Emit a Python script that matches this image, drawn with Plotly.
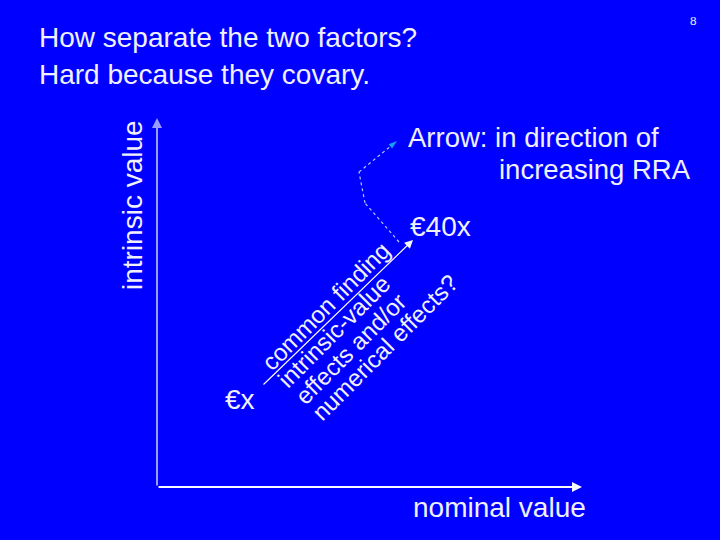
import math
import plotly.graph_objects as go

# ---- diagram data (pixel-space coordinates of the slide, y grows downward) ----
axis_origin = [157, 487]
y_axis_end = [157, 118]
x_axis_end = [582, 487]

finding_start = [262, 386]
finding_end = [413, 240]

dotted_x = [399, 365, 359, 397]
dotted_y = [242, 203, 172, 141]

title_lines = ["How separate the two factors?", "Hard because they covary."]
title_y = [37, 74]
slide_number = "8"

rotated_lines = ["common finding", "intrinsic-value", "effects and/or", "numerical effects?"]
# position of each rotated line: distance across (perpendicular) and along the 45° direction
rotated_across = [446.5, 471, 494.5, 518]
rotated_along = [13.5, 1.5, 1.7, 26.3]

BG = "#0000FF"
FG = "#F0F0FF"
FONT = "Liberation Sans, Arial, sans-serif"

fig = go.Figure()

# dotted path with arrow head at the end
fig.add_trace(go.Scatter(
    x=dotted_x, y=dotted_y, mode="lines+markers",
    line=dict(color="#A8CCFF", width=1.2, dash="dot"),
    marker=dict(symbol="arrow", size=[0, 0, 0, 9], angleref="previous",
                color="#22E0F0", line=dict(width=0)),
    hoverinfo="skip", showlegend=False))

annotations = []

def arrow(start, end, color, width, head=2, size=1):
    annotations.append(dict(
        x=end[0], y=end[1], ax=start[0], ay=start[1],
        xref="x", yref="y", axref="x", ayref="y",
        showarrow=True, arrowhead=head, arrowsize=size, arrowwidth=width,
        arrowcolor=color, text=""))

arrow(axis_origin, y_axis_end, "#9A9AFF", 2)
arrow(axis_origin, x_axis_end, "#F8F8FF", 2)
arrow(finding_start, finding_end, "#F8F8FF", 1.2, head=2, size=1.4)

def label(text, x, y, size=28, xanchor="left", yanchor="middle", angle=0,
          family=FONT, align="left"):
    annotations.append(dict(
        x=x, y=y, xref="x", yref="y", text=text, showarrow=False,
        xanchor=xanchor, yanchor=yanchor, textangle=angle, align=align,
        borderpad=0,
        font=dict(family=family, size=size, color=FG)))

for t, yy in zip(title_lines, title_y):
    label(t, 38, yy)

label(slide_number, 693, 20, size=13, xanchor="center",
      family="Liberation Serif, Times New Roman, serif")

label("Arrow: in direction of", 407, 154, size=27.5, yanchor="bottom")
label("increasing RRA", 498, 153, size=27.5, yanchor="top")
label("€40x", 409, 226)
label("€x", 224, 399)
label("intrinsic value", 132, 205, xanchor="center", angle=-90)
label("nominal value", 499, 507, xanchor="center")

r2 = math.sqrt(2)
for t, p, a in zip(rotated_lines, rotated_across, rotated_along):
    label(t, (p + a) / r2, (p - a) / r2, size=24, xanchor="center", angle=-45)

fig.update_layout(
    width=720, height=540,
    margin=dict(l=0, r=0, t=0, b=0),
    paper_bgcolor=BG, plot_bgcolor=BG,
    xaxis=dict(range=[0, 720], visible=False, fixedrange=True),
    yaxis=dict(range=[540, 0], visible=False, fixedrange=True),
    annotations=annotations,
    showlegend=False,
)

fig.write_html("out.html", config={"displayModeBar": False},
               post_script="document.body.style.margin='0';document.body.style.overflow='hidden';")
